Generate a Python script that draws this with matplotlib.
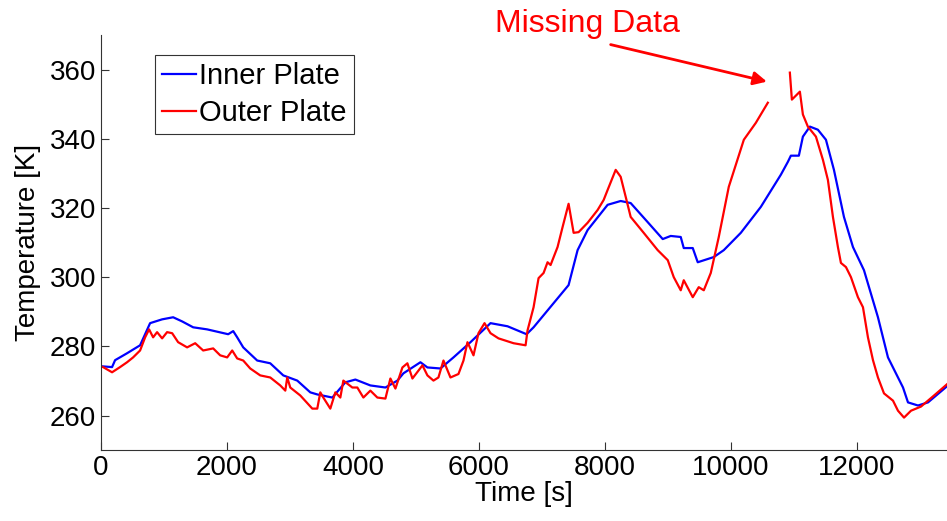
import numpy as np
import matplotlib
matplotlib.use('Agg')
import matplotlib.pyplot as plt

plt.rcParams['font.family'] = ['Liberation Sans', 'DejaVu Sans']

# inner plate temperature [K] vs time [s]
inner_t = [32, 175, 223, 413, 620, 779, 970, 1145, 1288, 1463, 1685, 2019, 2099, 2162,
           2258, 2480, 2687, 2894, 3116, 3323, 3434, 3673, 3880, 4039, 4277, 4516, 4706,
           4802, 5072, 5183, 5390, 5597, 5867, 6185, 6455, 6758, 6869, 7425, 7568, 7727,
           8045, 8252, 8411, 8681, 8920, 9047, 9206, 9254, 9397, 9476, 9731, 9890, 10160,
           10478, 10796, 10907, 10955, 11082, 11146, 11257, 11384, 11512, 11639, 11798,
           11941, 12116, 12338, 12497, 12736, 12815, 12974, 13133, 13451]
inner_T = [274.2, 274.0, 276.0, 278.0, 280.3, 286.7, 287.8, 288.4, 287.2, 285.5, 284.9,
           283.5, 284.4, 282.6, 279.7, 275.9, 275.1, 271.6, 270.1, 266.7, 266.1, 265.2,
           269.6, 270.4, 268.7, 268.1, 270.1, 272.2, 275.4, 273.9, 273.6, 276.8, 281.2,
           286.7, 285.8, 283.5, 285.5, 297.7, 307.8, 313.6, 320.9, 322.0, 321.4, 315.9,
           311.0, 311.9, 311.6, 308.4, 308.4, 304.3, 305.8, 307.8, 312.8, 320.3, 329.6,
           333.3, 335.1, 335.1, 340.6, 343.5, 342.6, 339.7, 331.0, 317.4, 308.7, 302.0,
           288.4, 276.8, 268.1, 263.8, 262.9, 263.8, 268.7]

# outer plate, NaN marks the missing data
outer_t = [32, 175, 302, 413, 509, 620, 700, 763, 827, 890, 970, 1049, 1129, 1224, 1367,
           1495, 1622, 1781, 1892, 2003, 2083, 2162, 2258, 2369, 2528, 2687, 2846, 2926,
           2957, 3005, 3164, 3355, 3434, 3482, 3530, 3641, 3721, 3800, 3848, 3991, 4070,
           4166, 4277, 4388, 4516, 4595, 4675, 4786, 4865, 4945, 5104, 5183, 5279, 5358,
           5438, 5549, 5676, 5756, 5819, 5915, 5994, 6090, 6185, 6312, 6551, 6742, 6773,
           6869, 6948, 7028, 7091, 7139, 7250, 7330, 7425, 7505, 7584, 7727, 7886, 7982,
           8045, 8173, 8252, 8332, 8411, 8618, 8840, 9000, 9095, 9206, 9254, 9397, 9492,
           9572, 9683, 9810, 9969, 10208, 10399, 10589, 10760, 10939, 10971, 11098,
           11146, 11225, 11353, 11464, 11543, 11623, 11702, 11750, 11830, 11909, 12020,
           12100, 12179, 12259, 12338, 12434, 12577, 12656, 12752, 12863, 13022, 13229,
           13451]
outer_T = [274.0, 272.5, 274.0, 275.4, 276.8, 278.8, 282.6, 284.9, 282.6, 284.1, 282.3,
           284.1, 283.8, 281.2, 279.7, 280.9, 278.8, 279.4, 277.4, 276.8, 278.8, 276.5,
           275.9, 273.6, 271.6, 271.0, 268.7, 267.2, 271.0, 268.1, 265.8, 262.0, 262.0,
           266.7, 265.2, 262.0, 266.7, 265.2, 270.1, 268.1, 268.1, 265.2, 267.2, 265.2,
           264.9, 270.7, 267.8, 273.9, 275.1, 270.7, 274.5, 271.6, 270.1, 271.0, 275.9,
           271.0, 272.0, 275.9, 281.2, 277.4, 283.8, 286.7, 283.8, 282.3, 280.9, 280.3,
           284.6, 291.3, 299.7, 301.2, 304.3, 303.5, 308.7, 314.5, 321.2, 312.8, 313.0,
           315.7, 319.4, 322.3, 325.2, 331.0, 329.0, 323.2, 317.4, 312.8, 307.8, 304.9,
           300.0, 296.2, 299.1, 294.2, 297.1, 296.2, 301.2, 311.6, 326.1, 339.7, 344.6,
           350.4, np.nan, 359.1, 351.3, 353.6, 347.0, 343.5, 340.6, 333.9, 328.1, 317.4,
           308.7, 304.1, 302.9, 300.0, 294.2, 291.3, 282.6, 276.0, 271.0, 266.4, 264.3,
           261.4, 259.4, 261.4, 262.6, 265.8, 269.3]

fig = plt.figure(figsize=(9.47, 5.21), dpi=100)
ax = fig.add_axes([0.1067, 0.136, 0.893, 0.797])

ax.plot(inner_t, inner_T, color='#0000ff', lw=1.6, label='Inner Plate')
ax.plot(outer_t, outer_T, color='#ff0000', lw=1.6, label='Outer Plate')

ax.set_xlim(0, 13430)
ax.set_ylim(250, 370)
ax.set_xticks([0, 2000, 4000, 6000, 8000, 10000, 12000])
ax.set_yticks([260, 280, 300, 320, 340, 360])
ax.tick_params(direction='in', length=6, labelsize=20, width=0.8, color='#333333')
ax.spines['top'].set_visible(False)
ax.spines['right'].set_visible(False)
for s in ['left', 'bottom']:
    ax.spines[s].set_color('#333333')
ax.set_xlabel('Time [s]', fontsize=20, labelpad=0)
ax.set_ylabel('Temperature [K]', fontsize=20, labelpad=6)

leg = ax.legend(loc='upper left', bbox_to_anchor=(0.064, 0.952), borderaxespad=0,
                fontsize=21, frameon=True, fancybox=False, framealpha=1,
                edgecolor='#333333', handlelength=1.15, handletextpad=0.1,
                borderpad=0.25, labelspacing=0.3)
leg.get_frame().set_linewidth(0.8)

# missing data note
ax.text(7727, 368.7, 'Missing Data', color='#ff0000', fontsize=23,
        ha='center', va='bottom', clip_on=False)
ax.annotate('', xy=(10574, 356.5), xytext=(8093, 367.2),
            annotation_clip=False,
            arrowprops=dict(arrowstyle='-|>', color='#ff0000', lw=2,
                            mutation_scale=20, shrinkA=0, shrinkB=0))

fig.savefig('out.png', dpi=100)
